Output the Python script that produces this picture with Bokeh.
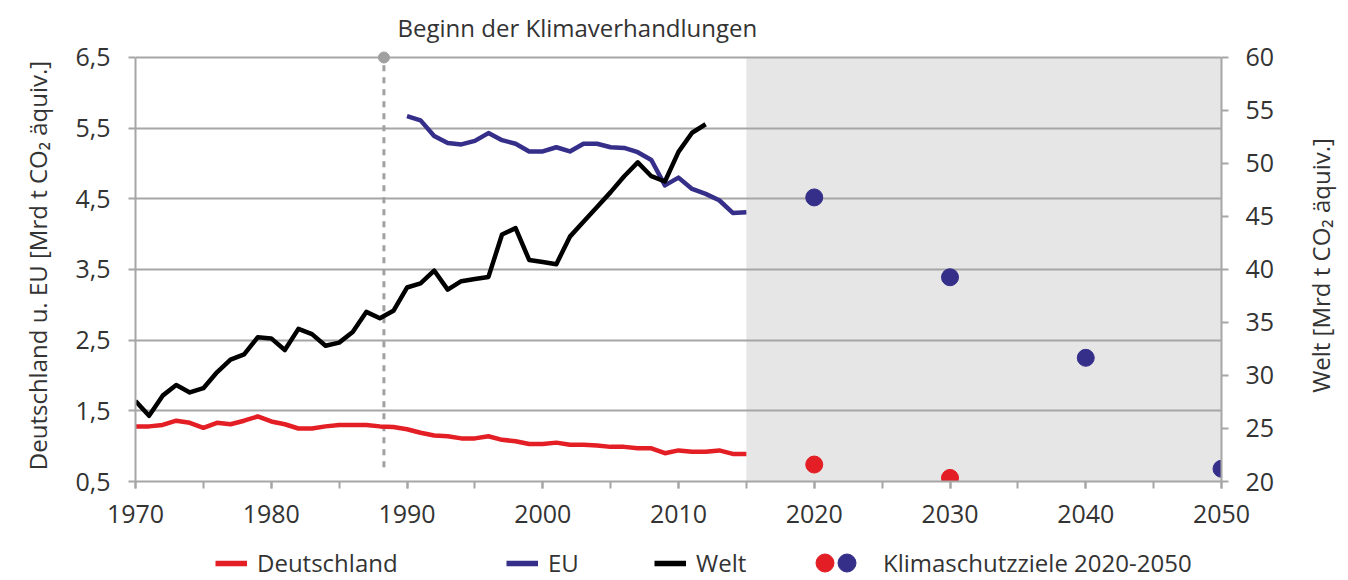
from bokeh.plotting import figure
from bokeh.layouts import column, row
from bokeh.models import (Range1d, LinearAxis, SingleIntervalTicker, FixedTicker,
                          BoxAnnotation, Legend, LegendItem, Title)
from bokeh.embed import file_html
from bokeh.resources import INLINE

# Emissionen in Mrd t CO2-Aequivalent
de_years = list(range(1970, 2016))
deutschland = [1.28, 1.28, 1.30, 1.36, 1.33, 1.26, 1.33, 1.31, 1.36, 1.42,
               1.35, 1.31, 1.25, 1.25, 1.28, 1.30, 1.30, 1.30, 1.28, 1.27,
               1.24, 1.19, 1.15, 1.14, 1.11, 1.11, 1.14, 1.09, 1.07, 1.03,
               1.03, 1.05, 1.02, 1.02, 1.01, 0.99, 0.99, 0.97, 0.97, 0.90,
               0.94, 0.92, 0.92, 0.94, 0.89, 0.89]

eu_years = list(range(1990, 2016))
eu = [5.67, 5.61, 5.39, 5.29, 5.27, 5.32, 5.43, 5.33, 5.28, 5.17,
      5.17, 5.23, 5.17, 5.28, 5.28, 5.23, 5.22, 5.16, 5.05, 4.69,
      4.80, 4.64, 4.57, 4.48, 4.30, 4.31]

welt_years = list(range(1970, 2013))
welt = [27.6, 26.2, 28.1, 29.1, 28.4, 28.8, 30.3, 31.5, 32.0, 33.6,
        33.5, 32.4, 34.4, 33.9, 32.8, 33.1, 34.1, 36.0, 35.4, 36.1,
        38.3, 38.7, 39.9, 38.1, 38.9, 39.1, 39.3, 43.3, 43.9, 40.9,
        40.7, 40.5, 43.1, 44.5, 45.9, 47.3, 48.8, 50.1, 48.8, 48.3,
        51.1, 52.9, 53.7]

ziel_de_years = [2020, 2030]
ziel_de = [0.74, 0.55]
ziel_eu_years = [2020, 2030, 2040, 2050]
ziel_eu = [4.52, 3.39, 2.25, 0.68]

left_ticks = [0.5, 1.5, 2.5, 3.5, 4.5, 5.5, 6.5]
left_labels = ["0,5", "1,5", "2,5", "3,5", "4,5", "5,5", "6,5"]

beginn_year = 1988.3
beginn_bottom = 0.7
prognose_start = 2015

RED = "#e31e24"
BLUE = "#352f8a"
GRID = "#a6a6a6"
TEXT = "#333333"
FONT = "Open Sans"

# ein wenig Luft ueber 6,5, damit der Punkt am Ende der Linie ganz sichtbar ist
y_top = 6.613
welt_top = 20 + (y_top - 0.5) * 40 / 6

p = figure(width=1288, height=529, x_range=Range1d(1970, 2050),
           y_range=Range1d(0.5, y_top), output_backend="svg",
           toolbar_location=None, min_border_left=135, min_border_right=67,
           min_border_top=49, min_border_bottom=48)
p.outline_line_color = None

p.add_layout(Title(text="Beginn der Klimaverhandlungen", align="left",
                   offset=262, standoff=12, text_font=FONT,
                   text_font_size="24px", text_font_style="normal",
                   text_color=TEXT), "above")

p.xgrid.visible = False
p.ygrid.ticker = FixedTicker(ticks=left_ticks)
p.ygrid.grid_line_color = GRID
p.ygrid.grid_line_width = 2

shade = BoxAnnotation(left=prognose_start, right=2050, bottom=0.5, top=6.5,
                      fill_color="#e6e6e6", fill_alpha=1, line_color=None,
                      level="image")
p.add_layout(shade)

left_axis = p.yaxis[0]
left_axis.ticker = FixedTicker(ticks=left_ticks)
left_axis.bounds = (0.5, 6.5)
left_axis.major_label_overrides = dict(zip(left_ticks, left_labels))
left_axis.axis_label = "Deutschland u. EU [Mrd t CO\u2082 äquiv.]"
left_axis.major_label_standoff = 18
left_axis.axis_label_standoff = 18

p.extra_y_ranges = {"welt": Range1d(20, welt_top)}
right_axis = LinearAxis(y_range_name="welt", bounds=(20, 60),
                        ticker=SingleIntervalTicker(interval=5, num_minor_ticks=0))
right_axis.major_label_standoff = 17
p.add_layout(right_axis, "right")

p.xaxis.ticker = SingleIntervalTicker(interval=10, num_minor_ticks=2)
p.xaxis.major_label_standoff = 16

for ax in p.axis:
    ax.axis_line_color = GRID
    ax.axis_line_width = 2
    ax.major_tick_line_color = GRID
    ax.major_tick_line_width = 2
    ax.major_tick_in = 0
    ax.major_tick_out = 7
    ax.minor_tick_line_color = GRID
    ax.minor_tick_line_width = 2
    ax.minor_tick_in = 0
    ax.minor_tick_out = 7
    ax.major_label_text_font = FONT
    ax.major_label_text_font_size = "25px"
    ax.major_label_text_color = TEXT
    ax.axis_label_text_font = FONT
    ax.axis_label_text_font_size = "24px"
    ax.axis_label_text_font_style = "normal"
    ax.axis_label_text_color = TEXT

# Beginn der Klimaverhandlungen
p.segment(x0=[beginn_year], y0=[beginn_bottom], x1=[beginn_year], y1=[6.5],
          line_color="#a0a0a0", line_width=3, line_dash="6 6")
p.scatter([beginn_year], [6.5], size=11, color="#a0a0a0")

p.line(de_years, deutschland, line_color=RED, line_width=4.5, line_join="round")
p.line(eu_years, eu, line_color=BLUE, line_width=4.5, line_join="round")
p.line(welt_years, welt, line_color="black", line_width=4.5,
       line_join="round", y_range_name="welt")
p.scatter(ziel_de_years, ziel_de, size=17, color=RED)
p.scatter(ziel_eu_years, ziel_eu, size=17, color=BLUE)

# Beschriftung der rechten Achse: eigener schmaler Streifen, damit sie
# wie links von unten nach oben laeuft
lab_fig = figure(width=60, height=529, x_range=Range1d(0, 1), y_range=Range1d(0, 1),
                 output_backend="svg", toolbar_location=None, x_axis_type=None,
                 min_border_left=48, min_border_right=2,
                 min_border_top=49, min_border_bottom=48)
lab_fig.outline_line_color = None
lab_fig.ygrid.visible = False
lab_ax = lab_fig.yaxis[0]
lab_ax.ticker = FixedTicker(ticks=[])
lab_ax.axis_line_color = None
lab_ax.major_tick_out = 0
lab_ax.minor_tick_out = 0
lab_ax.axis_label = "Welt [Mrd t CO\u2082 äquiv.]"
lab_ax.axis_label_standoff = 0
lab_ax.axis_label_text_font = FONT
lab_ax.axis_label_text_font_size = "24px"
lab_ax.axis_label_text_font_style = "normal"
lab_ax.axis_label_text_color = TEXT

# Legende in eigenem Streifen unter dem Diagramm (Rahmen wie oben ausgerichtet)
leg_fig = figure(width=1288, height=50, x_range=Range1d(0, 1), y_range=Range1d(0, 1),
                 output_backend="svg", toolbar_location=None,
                 x_axis_type=None, y_axis_type=None, min_border=0)
leg_fig.outline_line_color = None

off = [-5, -4]
k_de = leg_fig.line(off, off, line_color=RED, line_width=5.5)
k_eu = leg_fig.line(off, off, line_color=BLUE, line_width=5.5)
k_welt = leg_fig.line(off, off, line_color="black", line_width=5.5)
k_zde = leg_fig.scatter(off, off, color=RED)
k_zeu = leg_fig.scatter(off, off, color=BLUE)


def add_legend(label, renderer, x, y=0, glyph_size=(32, 28), standoff=10):
    leg = Legend(items=[LegendItem(label=label, renderers=[renderer])],
                 location=(x, y), orientation="horizontal",
                 glyph_width=glyph_size[0], glyph_height=glyph_size[1],
                 label_standoff=standoff, padding=0, margin=0,
                 border_line_color=None, background_fill_alpha=0,
                 label_text_font=FONT, label_text_font_size="24px",
                 label_text_color=TEXT)
    leg_fig.add_layout(leg, "center")


# x relativ zur linken Rahmenkante (1970)
add_legend("Deutschland", k_de, 80)
add_legend("EU", k_eu, 371)
add_legend("Welt", k_welt, 519)
add_legend(" ", k_zde, 667, y=-6, glyph_size=(45, 45), standoff=0)
add_legend("Klimaschutzziele 2020-2050", k_zeu, 689, y=-6,
           glyph_size=(45, 45), standoff=14)

layout = row(column(p, leg_fig, spacing=0), lab_fig, spacing=0)
open("out.html", "w").write(file_html(layout, INLINE))
